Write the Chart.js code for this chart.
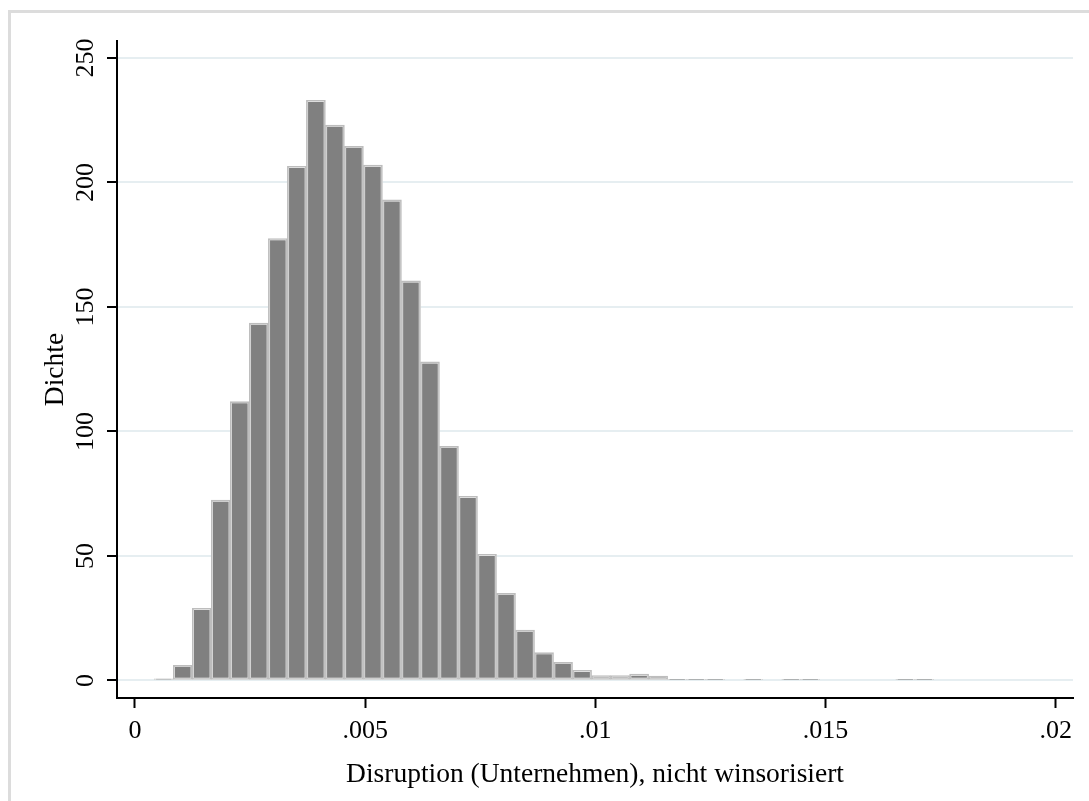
<!DOCTYPE html>
<html lang="de">
<head>
<meta charset="utf-8">
<title>Disruption Histogramm</title>
<script src="https://cdn.jsdelivr.net/npm/chart.js@4.4.1/dist/chart.umd.min.js"></script>
<style>
    html, body { margin: 0; padding: 0; background: #ffffff; overflow: hidden; }
    .frame {
        position: absolute; left: 8px; top: 10px; width: 1200px; height: 900px;
        border-left: 3px solid #dcdcdc; border-top: 3px solid #dcdcdc;
    }
    .wrap { position: absolute; left: 0; top: 0; width: 1089px; height: 801px; }
</style>
</head>
<body>
<div class="frame"></div>
<div class="wrap"><canvas id="histChart" width="1089" height="801"></canvas></div>
<script>
// histogram bins (equal width, Stata default binning)
const binStart = 0.000419;
const binWidth = 0.000413;
const density = [
    0.7, 6.1, 29, 72.4, 112, 143.5, 177.5, 206.5, 233, 223,
    214.5, 207, 193, 160.5, 128, 94, 74, 50.7, 35, 20.2,
    11.2, 7.3, 4.1, 2.0, 2.0, 2.6, 1.8, 0.3, 0.3, 0.3,
    0, 0.3, 0, 0.3, 0.3, 0, 0, 0, 0, 0.3,
    0.3,
];

const xTicks = [0, 0.005, 0.01, 0.015, 0.02];
const xTickLabels = ["0", ".005", ".01", ".015", ".02"];
const yTicks = [0, 50, 100, 150, 200, 250];

const xTitle = "Disruption (Unternehmen), nicht winsorisiert";
const yTitle = "Dichte";

(() => {
    const canvas = document.getElementById("histChart");
    const family = "'Liberation Serif', 'Times New Roman', serif";
    const tickFont = { family, size: 26 };
    const titleFont = { family, size: 27.5 };

    const colors = {
        fill: "#808080",
        gap: "#ffffff",
        outline: "#bdbdbd",
        grid: "#e6eef1",
        axis: "#000000",
    };

    const points = density.map((value, i) => ({
        x: binStart + (i + 0.5) * binWidth,
        y: value,
    }));

    new Chart(canvas, {
        type: "bar",
        data: {
            datasets: [
                {
                    // thin outline on top
                    data: points,
                    order: 0,
                    grouped: false,
                    backgroundColor: "rgba(0,0,0,0)",
                    borderColor: colors.outline,
                    borderWidth: 1,
                    borderSkipped: false,
                    barPercentage: 1,
                    categoryPercentage: 1,
                },
                {
                    data: points,
                    order: 1,
                    grouped: false,
                    backgroundColor: colors.fill,
                    borderColor: colors.gap,
                    borderWidth: 2,
                    borderSkipped: false,
                    barPercentage: 1,
                    categoryPercentage: 1,
                },
            ],
        },
        options: {
            responsive: false,
            animation: false,
            events: [],
            layout: { padding: { left: 0, right: 16, top: 41, bottom: 0 } },
            plugins: {
                legend: { display: false },
                tooltip: { enabled: false },
            },
            scales: {
                x: {
                    type: "linear",
                    min: -0.000391,
                    max: 0.020376,
                    offset: false,
                    afterBuildTicks(scale) {
                        scale.ticks = xTicks.map((value) => ({ value }));
                    },
                    afterFit(scale) {
                        scale.height = 103;
                    },
                    ticks: {
                        font: tickFont,
                        color: "#000",
                        padding: 8,
                        maxRotation: 0,
                        minRotation: 0,
                        callback(value) {
                            const idx = xTicks.findIndex((t) => Math.abs(t - value) < 1e-9);
                            return idx >= 0 ? xTickLabels[idx] : "";
                        },
                    },
                    grid: {
                        offset: false,
                        drawOnChartArea: false,
                        tickLength: 10,
                        tickColor: colors.axis,
                        tickWidth: 2,
                    },
                    border: { display: true, color: colors.axis, width: 2 },
                    title: {
                        display: true,
                        text: xTitle,
                        font: titleFont,
                        color: "#000",
                        padding: { top: 0, bottom: 10 },
                    },
                },
                y: {
                    type: "linear",
                    min: -7.03,
                    max: 256.8,
                    afterBuildTicks(scale) {
                        scale.ticks = yTicks.map((value) => ({ value }));
                    },
                    afterFit(scale) {
                        scale.width = 117;
                    },
                    ticks: {
                        font: tickFont,
                        color: "#000",
                        padding: 1,
                        minRotation: 90,
                        maxRotation: 90,
                        crossAlign: "center",
                    },
                    grid: {
                        color: colors.grid,
                        lineWidth: 2,
                        tickLength: 10,
                        tickColor: colors.axis,
                        tickWidth: 2,
                    },
                    border: { display: true, color: colors.axis, width: 2 },
                    title: {
                        display: true,
                        text: yTitle,
                        font: titleFont,
                        color: "#000",
                        padding: { top: 39, bottom: 0 },
                    },
                },
            },
        },
    });
})();
</script>
</body>
</html>
